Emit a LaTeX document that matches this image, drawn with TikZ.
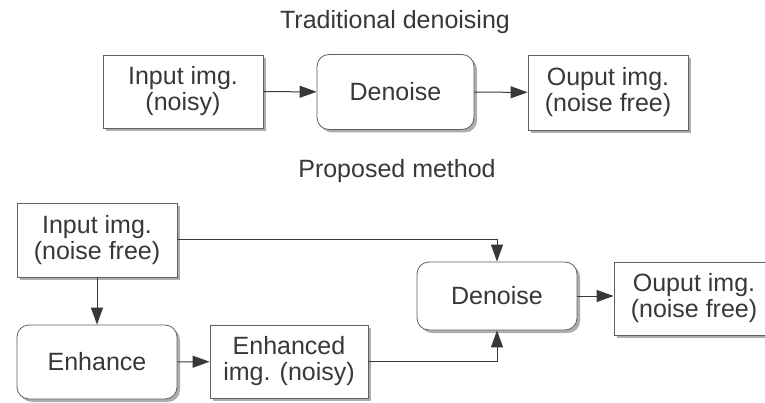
\documentclass[tikz,border=0pt]{standalone}
\usepackage{fontspec}
\setmainfont{Liberation Sans}
\usetikzlibrary{arrows.meta,shadows}
\definecolor{ink}{HTML}{383838}
\begin{document}
\begin{tikzpicture}[x=1pt,y=1pt,
  every node/.style={font=\fontsize{25}{26}\selectfont, text=ink, align=center},
  boxbase/.style={draw=ink!80, line width=0.8pt, fill=white, inner sep=0pt,
    drop shadow={shadow xshift=3pt, shadow yshift=-3pt, fill=black!40, opacity=0.8}},
  imgbox/.style={boxbase},
  procbox/.style={boxbase, rounded corners=12pt},
  conn/.style={draw=ink, line width=1pt, -{Triangle[length=17pt,width=12pt]}},
  title/.style={font=\fontsize{25}{26}\selectfont, text=ink}
]
\useasboundingbox (0,0) rectangle (765,-403);
\fill[white] (0,0) rectangle (765,-403);

\node[title] (t1) at (395,-22) {Traditional denoising};
\node[title] (t2) at (397,-171) {Proposed method};

\node[imgbox, minimum width=160pt, minimum height=73pt] (in1) at (183,-91.5) {Input img.\\(noisy)};
\node[procbox, minimum width=157pt, minimum height=75pt] (dn1) at (395.5,-92) {Denoise};
\node[imgbox, minimum width=160pt, minimum height=75pt] (out1) at (608,-92.5) {Ouput img.\\(noise free)};

\node[imgbox, minimum width=160pt, minimum height=74pt] (in2) at (97,-240) {Input img.\\(noise free)};
\node[procbox, minimum width=160pt, minimum height=74pt] (en) at (97,-362) {Enhance};
\node[imgbox, minimum width=158pt, minimum height=73pt] (enh) at (289,-361.5) {Enhanced\\img. (noisy)};
\node[procbox, minimum width=160pt, minimum height=68pt] (dn2) at (497,-296) {Denoise};
\node[imgbox, minimum width=160pt, minimum height=73pt] (out2) at (694,-298.5) {Ouput img.\\(noise free)};

\draw[conn] (in1) -- (dn1);
\draw[conn] (dn1) -- (out1);
\draw[conn] (in2.east) -| (dn2.north);
\draw[conn] (in2) -- (en);
\draw[conn] (en) -- (enh);
\draw[conn] (enh.east) -| (dn2.south);
\draw[conn] (dn2.east) -- (dn2.east -| out2.west);
\end{tikzpicture}
\end{document}
